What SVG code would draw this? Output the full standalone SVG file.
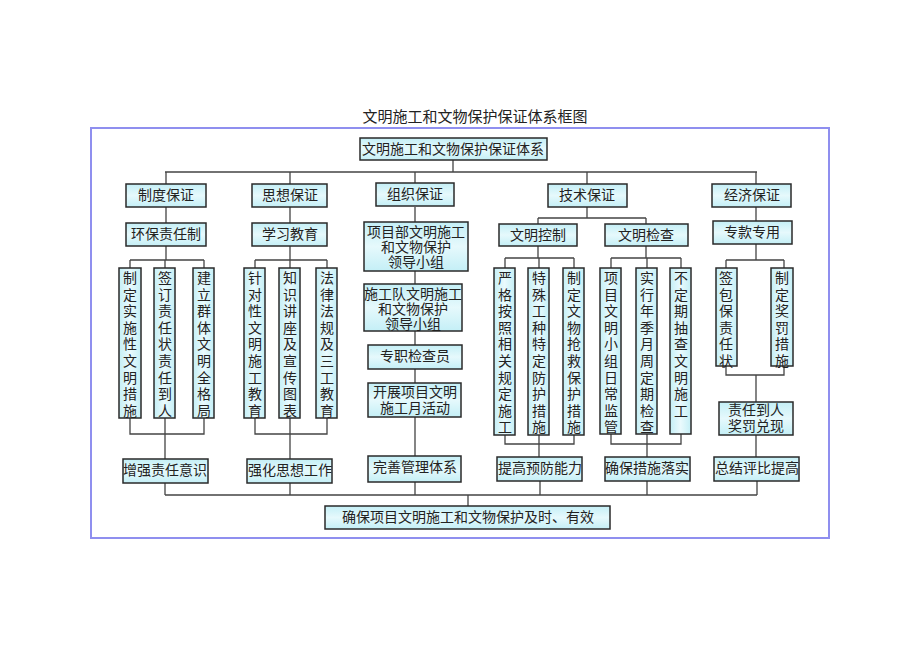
<svg xmlns="http://www.w3.org/2000/svg" width="920" height="651" viewBox="0 0 920 651">
<defs>
<linearGradient id="g" x1="0" y1="0" x2="0" y2="1"><stop offset="0" stop-color="#c4eff6"/><stop offset="0.5" stop-color="#e6f9fc"/><stop offset="1" stop-color="#c4eff6"/></linearGradient>
<linearGradient id="gv" x1="0" y1="0" x2="1" y2="0"><stop offset="0" stop-color="#c4eff6"/><stop offset="0.5" stop-color="#eafafd"/><stop offset="1" stop-color="#c4eff6"/></linearGradient>
</defs>
<style>
rect.b{fill:url(#g);stroke:#2a2a2a;stroke-width:1.5}
rect.v{fill:url(#gv);stroke:#2a2a2a;stroke-width:1.5}
text{font-family:"Liberation Serif","Noto Sans CJK SC",serif;font-size:14px;fill:#222;text-anchor:middle}
.t{font-size:15px}
#conn path{fill:none;stroke:#444;stroke-width:1.3}
</style>
<rect width="920" height="651" fill="#fff"/>
<text class="t" x="475" y="122" style="font-size:15px">文明施工和文物保护保证体系框图</text>
<rect x="91" y="128" width="738" height="410" fill="none" stroke="#8f8fef" stroke-width="2"/>
<g id="conn">
<path d="M453 160V172M165 172H757M166 172V184M290 172V184M415 172V184M587 172V184M756 172V184"/>
<path d="M166 207V223M290 207V223M415 207V222M587 207V218M538 218H646M538 218V224M646 218V224M756 207V221"/>
<path d="M166 246V260M130 260H204M130 260V268M165 260V268M204 260V268M130 418V434H204V418M165 418V459"/>
<path d="M290 246V260M255 260H327M255 260V268M290 260V268M327 260V268M255 418V434H327V418M290 418V459"/>
<path d="M415 271V284M415 331V345M415 369V383M415 417V456"/>
<path d="M538 246V258M505 258H574M505 258V268M539 258V268M574 258V268M505 435V444H574V435M539 435V457"/>
<path d="M646 246V258M611 258H681M611 258V268M647 258V268M681 258V268M611 434V444H681V434M647 434V457"/>
<path d="M756 244V260M726 260H784M726 260V268M784 260V268M726 366V375H784V366M756 375V402M756 435V457"/>
<path d="M165 483V495M290 483V495M415 482V495M540 481V495M647 481V495M757 481V495M165 495H757M468 495V506"/>
</g>
<g id="top"><rect class="b" x="360" y="138" width="187" height="22"/><text x="453" y="154">文明施工和文物保护保证体系</text></g>
<g id="l2a"><rect class="b" x="126" y="184" width="80" height="23"/><text x="166" y="200">制度保证</text></g>
<g id="l2b"><rect class="b" x="252" y="184" width="75" height="23"/><text x="290" y="200">思想保证</text></g>
<g id="l2c"><rect class="b" x="376" y="183" width="78" height="23"/><text x="415" y="199">组织保证</text></g>
<g id="l2d"><rect class="b" x="548" y="184" width="79" height="23"/><text x="587" y="200">技术保证</text></g>
<g id="l2e"><rect class="b" x="712" y="184" width="79" height="23"/><text x="752" y="200">经济保证</text></g>
<g id="l3a"><rect class="b" x="126" y="223" width="80" height="23"/><text x="166" y="239">环保责任制</text></g>
<g id="l3b"><rect class="b" x="252" y="223" width="75" height="23"/><text x="290" y="239">学习教育</text></g>
<g id="o1"><rect class="b" x="364" y="222" width="104" height="49"/><text x="416" y="237">项目部文明施工</text><text x="416" y="252">和文物保护</text><text x="416" y="267">领导小组</text></g>
<g id="o2"><rect class="b" x="364" y="284" width="98" height="47"/><text x="413" y="299">施工队文明施工</text><text x="413" y="314">和文物保护</text><text x="413" y="329">领导小组</text></g>
<g id="o3"><rect class="b" x="368" y="345" width="94" height="24"/><text x="415" y="361">专职检查员</text></g>
<g id="o4"><rect class="b" x="368" y="383" width="93" height="34"/><text x="415" y="397">开展项目文明</text><text x="415" y="413">施工月活动</text></g>
<g id="l3d"><rect class="b" x="499" y="224" width="78" height="22"/><text x="538" y="240">文明控制</text></g>
<g id="l3e"><rect class="b" x="605" y="224" width="83" height="22"/><text x="646" y="240">文明检查</text></g>
<g id="l3f"><rect class="b" x="713" y="221" width="79" height="23"/><text x="752" y="237">专款专用</text></g>
<g id="cols">
<g id="c1"><rect class="v" x="119" y="268" width="22" height="150"/><text x="130" y="283"><tspan x="130">制</tspan><tspan x="130" dy="16.6">定</tspan><tspan x="130" dy="16.6">实</tspan><tspan x="130" dy="16.6">施</tspan><tspan x="130" dy="16.6">性</tspan><tspan x="130" dy="16.6">文</tspan><tspan x="130" dy="16.6">明</tspan><tspan x="130" dy="16.6">措</tspan><tspan x="130" dy="16.6">施</tspan></text></g>
<g id="c2"><rect class="v" x="154" y="268" width="21" height="150"/><text x="165" y="283"><tspan x="165">签</tspan><tspan x="165" dy="16.6">订</tspan><tspan x="165" dy="16.6">责</tspan><tspan x="165" dy="16.6">任</tspan><tspan x="165" dy="16.6">状</tspan><tspan x="165" dy="16.6">责</tspan><tspan x="165" dy="16.6">任</tspan><tspan x="165" dy="16.6">到</tspan><tspan x="165" dy="16.6">人</tspan></text></g>
<g id="c3"><rect class="v" x="193" y="268" width="21" height="150"/><text x="204" y="283"><tspan x="204">建</tspan><tspan x="204" dy="16.6">立</tspan><tspan x="204" dy="16.6">群</tspan><tspan x="204" dy="16.6">体</tspan><tspan x="204" dy="16.6">文</tspan><tspan x="204" dy="16.6">明</tspan><tspan x="204" dy="16.6">全</tspan><tspan x="204" dy="16.6">格</tspan><tspan x="204" dy="16.6">局</tspan></text></g>
<g id="c4"><rect class="v" x="244" y="268" width="21" height="150"/><text x="255" y="283"><tspan x="255">针</tspan><tspan x="255" dy="16.6">对</tspan><tspan x="255" dy="16.6">性</tspan><tspan x="255" dy="16.6">文</tspan><tspan x="255" dy="16.6">明</tspan><tspan x="255" dy="16.6">施</tspan><tspan x="255" dy="16.6">工</tspan><tspan x="255" dy="16.6">教</tspan><tspan x="255" dy="16.6">育</tspan></text></g>
<g id="c5"><rect class="v" x="279" y="268" width="21" height="150"/><text x="290" y="283"><tspan x="290">知</tspan><tspan x="290" dy="16.6">识</tspan><tspan x="290" dy="16.6">讲</tspan><tspan x="290" dy="16.6">座</tspan><tspan x="290" dy="16.6">及</tspan><tspan x="290" dy="16.6">宣</tspan><tspan x="290" dy="16.6">传</tspan><tspan x="290" dy="16.6">图</tspan><tspan x="290" dy="16.6">表</tspan></text></g>
<g id="c6"><rect class="v" x="316" y="268" width="21" height="150"/><text x="327" y="283"><tspan x="327">法</tspan><tspan x="327" dy="16.6">律</tspan><tspan x="327" dy="16.6">法</tspan><tspan x="327" dy="16.6">规</tspan><tspan x="327" dy="16.6">及</tspan><tspan x="327" dy="16.6">三</tspan><tspan x="327" dy="16.6">工</tspan><tspan x="327" dy="16.6">教</tspan><tspan x="327" dy="16.6">育</tspan></text></g>
<g id="c7"><rect class="v" x="494" y="268" width="21" height="167"/><text x="505" y="283"><tspan x="505">严</tspan><tspan x="505" dy="16.6">格</tspan><tspan x="505" dy="16.6">按</tspan><tspan x="505" dy="16.6">照</tspan><tspan x="505" dy="16.6">相</tspan><tspan x="505" dy="16.6">关</tspan><tspan x="505" dy="16.6">规</tspan><tspan x="505" dy="16.6">定</tspan><tspan x="505" dy="16.6">施</tspan><tspan x="505" dy="16.6">工</tspan></text></g>
<g id="c8"><rect class="v" x="528" y="268" width="21" height="167"/><text x="539" y="283"><tspan x="539">特</tspan><tspan x="539" dy="16.6">殊</tspan><tspan x="539" dy="16.6">工</tspan><tspan x="539" dy="16.6">种</tspan><tspan x="539" dy="16.6">特</tspan><tspan x="539" dy="16.6">定</tspan><tspan x="539" dy="16.6">防</tspan><tspan x="539" dy="16.6">护</tspan><tspan x="539" dy="16.6">措</tspan><tspan x="539" dy="16.6">施</tspan></text></g>
<g id="c9"><rect class="v" x="563" y="268" width="21" height="167"/><text x="574" y="283"><tspan x="574">制</tspan><tspan x="574" dy="16.6">定</tspan><tspan x="574" dy="16.6">文</tspan><tspan x="574" dy="16.6">物</tspan><tspan x="574" dy="16.6">抢</tspan><tspan x="574" dy="16.6">救</tspan><tspan x="574" dy="16.6">保</tspan><tspan x="574" dy="16.6">护</tspan><tspan x="574" dy="16.6">措</tspan><tspan x="574" dy="16.6">施</tspan></text></g>
<g id="c10"><rect class="v" x="600" y="268" width="21" height="166"/><text x="611" y="283"><tspan x="611">项</tspan><tspan x="611" dy="16.6">目</tspan><tspan x="611" dy="16.6">文</tspan><tspan x="611" dy="16.6">明</tspan><tspan x="611" dy="16.6">小</tspan><tspan x="611" dy="16.6">组</tspan><tspan x="611" dy="16.6">日</tspan><tspan x="611" dy="16.6">常</tspan><tspan x="611" dy="16.6">监</tspan><tspan x="611" dy="16.6">管</tspan></text></g>
<g id="c11"><rect class="v" x="636" y="268" width="21" height="166"/><text x="647" y="283"><tspan x="647">实</tspan><tspan x="647" dy="16.6">行</tspan><tspan x="647" dy="16.6">年</tspan><tspan x="647" dy="16.6">季</tspan><tspan x="647" dy="16.6">月</tspan><tspan x="647" dy="16.6">周</tspan><tspan x="647" dy="16.6">定</tspan><tspan x="647" dy="16.6">期</tspan><tspan x="647" dy="16.6">检</tspan><tspan x="647" dy="16.6">查</tspan></text></g>
<g id="c12"><rect class="v" x="670" y="268" width="21" height="166"/><text x="681" y="283"><tspan x="681">不</tspan><tspan x="681" dy="16.6">定</tspan><tspan x="681" dy="16.6">期</tspan><tspan x="681" dy="16.6">抽</tspan><tspan x="681" dy="16.6">查</tspan><tspan x="681" dy="16.6">文</tspan><tspan x="681" dy="16.6">明</tspan><tspan x="681" dy="16.6">施</tspan><tspan x="681" dy="16.6">工</tspan></text></g>
<g id="c13"><rect class="v" x="716" y="268" width="21" height="98"/><text x="726" y="283"><tspan x="726">签</tspan><tspan x="726" dy="16.6">包</tspan><tspan x="726" dy="16.6">保</tspan><tspan x="726" dy="16.6">责</tspan><tspan x="726" dy="16.6">任</tspan><tspan x="726" dy="16.6">状</tspan></text></g>
<g id="c14"><rect class="v" x="771" y="268" width="22" height="98"/><text x="782" y="283"><tspan x="782">制</tspan><tspan x="782" dy="16.6">定</tspan><tspan x="782" dy="16.6">奖</tspan><tspan x="782" dy="16.6">罚</tspan><tspan x="782" dy="16.6">措</tspan><tspan x="782" dy="16.6">施</tspan></text></g>
</g>
<g id="e1"><rect class="b" x="719" y="402" width="74" height="33"/><text x="756" y="415">责任到人</text><text x="756" y="431">奖罚兑现</text></g>
<g id="r1"><rect class="b" x="123" y="459" width="85" height="24"/><text x="165" y="475">增强责任意识</text></g>
<g id="r2"><rect class="b" x="247" y="459" width="85" height="24"/><text x="290" y="475">强化思想工作</text></g>
<g id="r3"><rect class="b" x="368" y="456" width="93" height="26"/><text x="415" y="472">完善管理体系</text></g>
<g id="r4"><rect class="b" x="497" y="457" width="85" height="24"/><text x="540" y="473">提高预防能力</text></g>
<g id="r5"><rect class="b" x="605" y="457" width="85" height="24"/><text x="647" y="473">确保措施落实</text></g>
<g id="r6"><rect class="b" x="714" y="457" width="85" height="24"/><text x="757" y="473">总结评比提高</text></g>
<g id="final"><rect class="b" x="325" y="506" width="285" height="23"/><text x="468" y="522">确保项目文明施工和文物保护及时、有效</text></g>
</svg>
